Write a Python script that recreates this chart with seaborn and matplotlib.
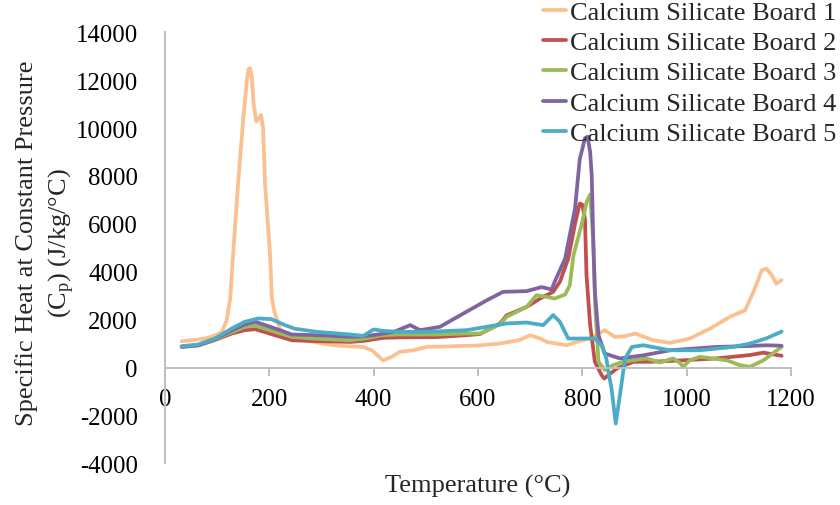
import matplotlib
matplotlib.use("Agg")
import matplotlib.pyplot as plt
import seaborn as sns
import pandas as pd

# ---------------- data ----------------
t1 = [32, 60, 83, 100, 109, 118, 125, 131, 140, 150, 157, 160, 163, 166, 170, 175, 180, 184,
      188, 192, 201, 205, 210, 214, 220, 230, 245, 259, 290, 323, 355, 380, 398, 418, 435,
      450, 476, 502, 540, 600, 642, 680, 700, 719, 732, 750, 770, 786, 818, 843, 862, 880,
      901, 936, 968, 1006, 1045, 1083, 1112, 1128, 1144, 1153, 1163, 1172, 1182]
cp1 = [1100, 1160, 1240, 1380, 1490, 1950, 2880, 4870, 7640, 10400, 12000, 12450, 12500,
       12200, 11000, 10280, 10400, 10550, 10000, 7600, 4850, 2880, 2300, 2050, 1630, 1400,
       1250, 1180, 1050, 930, 880, 865, 700, 290, 450, 655, 720, 865, 880, 920, 1000, 1150,
       1350, 1210, 1070, 1000, 930, 1050, 1250, 1560, 1280, 1300, 1420, 1140, 1030, 1210,
       1630, 2120, 2390, 3160, 4060, 4130, 3860, 3500, 3650]

t2 = [32, 64, 96, 128, 153, 173, 211, 243, 291, 355, 380, 418, 450, 520, 578, 604, 642, 655,
      693, 719, 744, 757, 773, 786, 795, 800, 805, 808, 815, 824, 837, 842, 850, 866, 898,
      930, 993, 1057, 1121, 1147, 1182]
cp2 = [860, 920, 1150, 1420, 1560, 1600, 1350, 1140, 1100, 1070, 1110, 1240, 1260, 1270,
       1350, 1400, 1840, 2180, 2530, 2880, 3160, 3580, 4550, 6000, 6850, 6800, 6220, 3860,
       1770, 240, -320, -460, -320, -40, 240, 240, 300, 380, 520, 620, 490]

t3 = [32, 64, 96, 128, 153, 173, 211, 243, 291, 355, 380, 418, 450, 520, 578, 604, 642, 655,
      693, 712, 732, 747, 767, 776, 783, 799, 808, 815, 821, 825, 831, 843, 859, 880, 923,
      949, 974, 987, 993, 1006, 1025, 1077, 1102, 1121, 1147, 1182]
cp3 = [870, 940, 1180, 1480, 1700, 1750, 1490, 1280, 1200, 1140, 1200, 1350, 1380, 1380,
       1420, 1420, 1800, 2120, 2530, 3020, 2950, 2880, 3050, 3440, 4690, 6000, 6900, 7230,
       5250, 2460, 240, -100, 100, 250, 380, 210, 380, 200, 30, 300, 450, 300, 100, 30, 300,
       860]

t4 = [32, 64, 96, 128, 153, 173, 211, 243, 291, 355, 380, 412, 440, 470, 489, 527, 578, 617,
      648, 693, 722, 741, 747, 767, 786, 795, 805, 810, 815, 818, 821, 824, 831, 843, 872,
      917, 968, 1057, 1121, 1153, 1182]
cp4 = [870, 940, 1200, 1550, 1800, 1910, 1630, 1380, 1350, 1280, 1300, 1390, 1500, 1770,
       1560, 1700, 2330, 2810, 3160, 3190, 3360, 3260, 3580, 4550, 6640, 8700, 9570, 9640,
       9000, 8030, 5250, 3160, 1350, 585, 380, 510, 720, 860, 900, 930, 910]

t5 = [32, 64, 96, 128, 153, 179, 204, 230, 249, 291, 355, 380, 400, 418, 450, 502, 578, 655,
      693, 725, 744, 757, 773, 824, 837, 846, 850, 856, 864, 872, 882, 895, 917, 968, 1025,
      1089, 1121, 1153, 1182]
cp5 = [890, 960, 1210, 1630, 1910, 2050, 2020, 1770, 1620, 1490, 1380, 1320, 1590, 1530,
       1490, 1490, 1560, 1840, 1880, 1770, 2190, 1910, 1210, 1210, 930, 380, -180, -880,
       -2340, -1160, 380, 860, 930, 720, 720, 860, 1000, 1220, 1500]

series_names = ["Calcium Silicate Board 1", "Calcium Silicate Board 2",
                "Calcium Silicate Board 3", "Calcium Silicate Board 4",
                "Calcium Silicate Board 5"]
colors = ["#FAC090", "#C0504D", "#9BBB59", "#8064A2", "#4BACC6"]
x_ticks = [0, 200, 400, 600, 800, 1000, 1200]
y_ticks = [-4000, -2000, 0, 2000, 4000, 6000, 8000, 10000, 12000, 14000]

frames = []
for name, t, cp in zip(series_names, [t1, t2, t3, t4, t5], [cp1, cp2, cp3, cp4, cp5]):
    frames.append(pd.DataFrame({"Temperature": t, "Cp": cp, "Series": name}))
df = pd.concat(frames, ignore_index=True)

# ---------------- style ----------------
sns.set_theme(style="white")
plt.rcParams["font.family"] = ["Liberation Serif", "DejaVu Serif"]
plt.rcParams["mathtext.fontset"] = "custom"
plt.rcParams["mathtext.rm"] = "Liberation Serif"
plt.rcParams["mathtext.it"] = "Liberation Serif"
plt.rcParams["axes.unicode_minus"] = False
plt.rcParams["lines.solid_joinstyle"] = "round"
plt.rcParams["lines.solid_capstyle"] = "round"

fig = plt.figure(figsize=(8.4, 5.06), dpi=100)
ax = fig.add_axes([165 / 840, 1 - 464.3 / 506, (791 - 165) / 840, (464.3 - 33.3) / 506])

sns.lineplot(data=df, x="Temperature", y="Cp", hue="Series", palette=colors,
             hue_order=series_names, estimator=None, sort=True, linewidth=2.7, ax=ax)

ax.set_xlim(0, 1200)
ax.set_ylim(-4000, 14000)
ax.set_xticks(x_ticks)
ax.set_yticks(y_ticks)

grey = "#BFBFBF"
for s in ["top", "right"]:
    ax.spines[s].set_visible(False)
ax.spines["bottom"].set_position(("data", 0))
for s in ["left", "bottom"]:
    ax.spines[s].set_color(grey)
    ax.spines[s].set_linewidth(1.4)
ax.tick_params(axis="both", which="major", direction="out", length=5.5, width=1.4,
               color=grey, labelsize=17.8, labelcolor="black")
ax.tick_params(axis="y", pad=14)
ax.tick_params(axis="x", pad=9, bottom=True)
ax.grid(False)

ax.set_xlabel("Temperature (°C)", fontsize=19)
ax.xaxis.set_label_coords(0.5, -0.024)
ax.set_ylabel("Specific Heat at Constant Pressure\n(C$_\\mathrm{p}$) (J/kg/°C)", fontsize=19,
              linespacing=1.45)
ax.yaxis.set_label_coords(-0.140, 0.512)

leg = ax.legend(loc="upper right", bbox_to_anchor=(838 / 840, 1.0),
                bbox_transform=fig.transFigure, frameon=False, fontsize=19,
                handlelength=0.9, handletextpad=0.15, labelspacing=0.26,
                borderaxespad=0, borderpad=0.05)
for line in leg.get_lines():
    line.set_linewidth(2.7)

fig.savefig("out.png", dpi=100)
